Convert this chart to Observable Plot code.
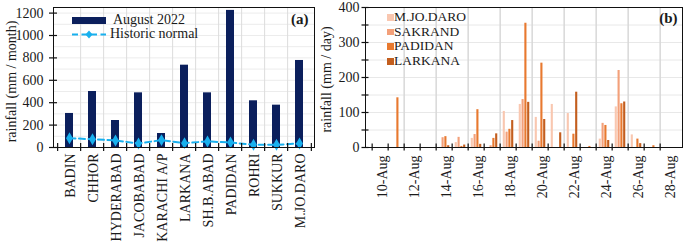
<!DOCTYPE html>
<html>
<head>
<meta charset="utf-8">
<script src="https://cdn.jsdelivr.net/npm/d3@7"></script>
<script src="https://cdn.jsdelivr.net/npm/@observablehq/plot@0.6"></script>
<style>
  html,body{margin:0;padding:0;background:#fff;}
  #wrap{position:relative;width:685px;height:245px;overflow:hidden;font-family:"Liberation Serif","Times New Roman",serif;color:#1a1a1a;}
  #chartA{position:absolute;left:0;top:0;}
  #chartB{position:absolute;left:318px;top:0;}
  .lt{position:absolute;font-size:14px;line-height:14px;white-space:nowrap;}
  .ltb{position:absolute;font-size:13.5px;line-height:14px;white-space:nowrap;}
  .sw{position:absolute;}
</style>
</head>
<body>
<div id="wrap">
  <div id="chartA"></div>
  <div id="chartB"></div>
  <!-- legend (a) -->
  <div class="sw" style="left:72px;top:17px;width:34px;height:7px;background:#0b1f5c"></div>
  <div class="lt" style="left:113px;top:13px">August 2022</div>
  <svg class="sw" style="left:72px;top:29px" width="36" height="11">
    <line x1="0" y1="5.5" x2="34" y2="5.5" stroke="#18b0ee" stroke-width="2" stroke-dasharray="6,3.5"/>
    <path d="M17,1.5 L20.5,5.5 L17,9.5 L13.5,5.5 Z" fill="#18b0ee"/>
  </svg>
  <div class="lt" style="left:110px;top:27px">Historic normal</div>
  <!-- legend (b) -->
  <div id="legB"></div>
</div>
<script>
// ---------- DATA ----------
const stations = ["BADIN","CHHOR","HYDERABAD","JACOBABAD","KARACHI A/P","LARKANA","SH.B.ABAD","PADIDAN","ROHRI","SUKKUR","M.JO.DARO"];
const august2022 = [304, 500, 241, 488, 125, 735, 488, 1224, 417, 378, 777];
const historicNormal = [83, 74, 63, 36, 66, 39, 54, 45, 24, 24, 36];
const yTicksA = [0, 200, 400, 600, 800, 1000, 1200];

const days = ["10-Aug","11-Aug","12-Aug","13-Aug","14-Aug","15-Aug","16-Aug","17-Aug","18-Aug","19-Aug","20-Aug","21-Aug","22-Aug","23-Aug","24-Aug","25-Aug","26-Aug","27-Aug","28-Aug"];
const dayTickLabels = ["10-Aug","12-Aug","14-Aug","16-Aug","18-Aug","20-Aug","22-Aug","24-Aug","26-Aug","28-Aug"];
const stationsB = ["M.JO.DARO","SAKRAND","PADIDAN","LARKANA"];
const mjoDaro = [0, 0, 0, 0, 0, 14, 26, 0, 103, 123, 86, 123, 97, 0, 24, 116, 36, 0, 0];
const sakrand = [0, 0, 0, 0, 28, 29, 37, 5, 44, 137, 18, 0, 0, 0, 69, 220, 0, 0, 0];
const padidan = [0, 142, 0, 0, 31, 3, 108, 26, 52, 355, 241, 0, 38, 3, 63, 125, 24, 5, 0];
const larkana = [0, 0, 0, 0, 5, 7, 9, 39, 77, 129, 80, 42, 158, 0, 20, 130, 11, 0, 0];
const yTicksB = [0, 100, 200, 300, 400];
const colorsB = ["#f9c7b0", "#f3a07a", "#e8792f", "#c35e1e"];

// ---------- PANEL (a) ----------
const serif = '"Liberation Serif","Times New Roman",serif';
const wA = 318, hA = 245, mlA = 53, mrA = 4, mtA = 7, mbA = 98;
const innerA = wA - mlA - mrA;
const stepA = innerA / stations.length;
const rowsA = stations.map((s, i) => ({station: s, aug: august2022[i], normal: historicNormal[i]}));

const chartA = Plot.plot({
  width: wA, height: hA,
  marginLeft: mlA, marginRight: mrA, marginTop: mtA, marginBottom: mbA,
  style: {fontFamily: serif, fontSize: "14px", color: "#1a1a1a", background: "transparent", overflow: "visible"},
  x: {type: "band", domain: stations, paddingInner: 0.67, paddingOuter: 0.335, axis: null},
  y: {domain: [0, 1250], axis: null},
  marks: [
    Plot.ruleY(d3.range(100, 1250, 100), {stroke: "#ececec"}),
    Plot.ruleX(stations.slice(1), {x: d => d, dx: -stepA / 2, stroke: "#dcdcdc"}),
    Plot.barY(rowsA, {x: "station", y: "aug", fill: "#0b1f5c"}),
    Plot.lineY(rowsA, {x: "station", y: "normal", stroke: "#18b0ee", strokeWidth: 2, strokeDasharray: "6,3.5"}),
    Plot.dot(rowsA, {x: "station", y: "normal", symbol: "diamond", r: 3.6, fill: "#18b0ee", stroke: "none"}),
    Plot.frame({stroke: "#111"}),
    Plot.ruleX(stations, {x: d => d, dx: -stepA / 2, y1: 0, y2: 0, insetTop: 4, insetBottom: 4, stroke: "#111", strokeWidth: 1.2}),
    Plot.ruleX(stations.slice(-1), {x: d => d, dx: stepA / 2, y1: 0, y2: 0, insetTop: 4, insetBottom: 4, stroke: "#111", strokeWidth: 1.2}),
    Plot.ruleY(yTicksA, {y: d => d, insetLeft: -4, insetRight: innerA - 4, stroke: "#111", strokeWidth: 1.2}),
    Plot.axisY({ticks: yTicksA, tickSize: 0, tickPadding: 10, fontSize: 14, tickFormat: d => String(d), label: null}),
    Plot.axisX({tickSize: 0, tickPadding: 6, tickRotate: -90, fontSize: 14, dx: 1, label: null}),
    Plot.text(["rainfall (mm / month)"], {frameAnchor: "left", dx: -42, dy: 4, rotate: -90, textAnchor: "middle", lineAnchor: "middle", fontSize: 14}),
    Plot.text(["(a)"], {frameAnchor: "top-right", dx: -6, dy: 12, textAnchor: "end", lineAnchor: "middle", fontWeight: "bold", fontSize: 15})
  ]
});
document.getElementById("chartA").append(chartA);

// ---------- PANEL (b) ----------
const wB = 367, hB = 245, mlB = 47, mrB = 3, mtB = 7, mbB = 98;
const innerB = wB - mlB - mrB;
const stepB = innerB / days.length;
const barW = stepB * 0.168;
const groupPad = (stepB - 4 * barW) / 2;
const seriesB = [mjoDaro, sakrand, padidan, larkana];
const rowsB = days.flatMap((d, i) => stationsB.map((s, k) => ({day: d, station: s, value: seriesB[k][i]})));
const evenDays = days.filter((d, i) => i % 2 === 0);

const chartB = Plot.plot({
  width: wB, height: hB,
  marginLeft: mlB, marginRight: mrB, marginTop: mtB, marginBottom: mbB,
  style: {fontFamily: serif, fontSize: "14px", color: "#1a1a1a", background: "transparent", overflow: "visible"},
  x: {type: "band", domain: days, padding: 0, axis: null},
  y: {domain: [0, 400], axis: null},
  color: {domain: stationsB, range: colorsB},
  marks: [
    Plot.ruleY(d3.range(50, 400, 50), {stroke: "#e8e8e8"}),
    Plot.ruleX(evenDays.slice(1), {x: d => d, dx: -stepB / 2, stroke: "#d8d8d8", strokeWidth: 1.5}),
    ...stationsB.map((s, k) => Plot.barY(rowsB.filter(r => r.station === s), {
      x: "day", y: "value", fill: "station",
      insetLeft: groupPad + k * barW, insetRight: groupPad + (3 - k) * barW
    })),
    Plot.frame({stroke: "#111"}),
    Plot.ruleX(days, {x: d => d, dx: -stepB / 2, y1: 0, y2: 0, insetTop: 3.5, insetBottom: 3.5, stroke: "#111", strokeWidth: 1.2}),
    Plot.ruleY(d3.range(0, 401, 50), {y: d => d, insetLeft: -3.5, insetRight: innerB - 3.5, stroke: "#111", strokeWidth: 1.2}),
    Plot.axisY({ticks: yTicksB, tickSize: 0, tickPadding: 6, fontSize: 14, tickFormat: d => String(d), label: null}),
    Plot.axisX({ticks: dayTickLabels, tickSize: 0, tickPadding: 8, tickRotate: -90, fontSize: 14, dx: 2, label: null}),
    Plot.text(["rainfall (mm / day)"], {frameAnchor: "left", dx: -39, dy: 2, rotate: -90, textAnchor: "middle", lineAnchor: "middle", fontSize: 14}),
    Plot.text(["(b)"], {frameAnchor: "top-right", dx: -5, dy: 11, textAnchor: "end", lineAnchor: "middle", fontWeight: "bold", fontSize: 15})
  ]
});
document.getElementById("chartB").append(chartB);

// legend (b)
const legB = document.getElementById("legB");
const rowY = [17.3, 32, 46.7, 61.3];
stationsB.forEach((s, k) => {
  const sq = document.createElement("div");
  sq.className = "sw";
  sq.style.cssText = `left:387px;top:${rowY[k] - 3.3}px;width:6.6px;height:6.6px;background:${colorsB[k]}`;
  legB.append(sq);
  const t = document.createElement("div");
  t.className = "ltb";
  t.style.cssText = `left:394px;top:${rowY[k] - 7.5}px`;
  t.textContent = s;
  legB.append(t);
});
</script>
</body>
</html>
